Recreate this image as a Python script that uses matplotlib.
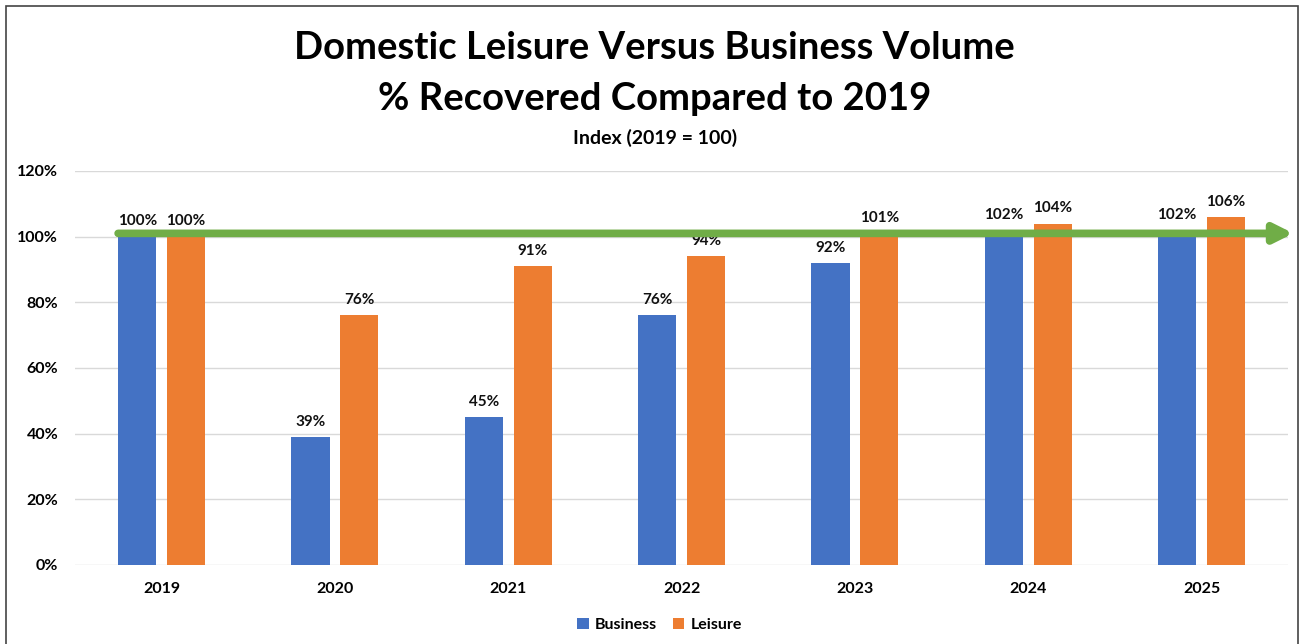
import matplotlib.pyplot as plt
from matplotlib.patches import Rectangle

plt.rcParams['font.family'] = ['Lato', 'DejaVu Sans']
plt.rcParams['font.weight'] = 'bold'

years = ['2019', '2020', '2021', '2022', '2023', '2024', '2025']
business = [100, 39, 45, 76, 92, 102, 102]
leisure = [100, 76, 91, 94, 101, 104, 106]
baseline = 101
yticks = [0, 20, 40, 60, 80, 100, 120]

blue = '#4472C4'
orange = '#ED7D31'
green = '#70AD47'

fig = plt.figure(figsize=(12.99, 6.44), dpi=100)
ax = fig.add_axes([0.0577, 0.1227, 0.934, 0.6118])

x = list(range(len(years)))
w = 0.22
off = 0.141
b1 = ax.bar([i - off for i in x], business, w, color=blue, label='Business', zorder=2)
b2 = ax.bar([i + off for i in x], leisure, w, color=orange, label='Leisure', zorder=2)

for bars, vals in ((b1, business), (b2, leisure)):
    for r, v in zip(bars, vals):
        ax.annotate(f'{v}%', (r.get_x() + r.get_width() / 2, v), xytext=(0, 6),
                    textcoords='offset points', ha='center', va='bottom',
                    fontsize=11, fontweight='bold', color='#111111', zorder=3)

# green reference arrow at ~100%
ax.annotate('', xy=(len(years) - 0.5 + 0.03, baseline), xytext=(-off - w / 2, baseline),
            xycoords='data', textcoords='data', annotation_clip=False,
            arrowprops=dict(arrowstyle='-|>,head_length=1.1,head_width=0.55',
                            color=green, lw=5.5, shrinkA=0, shrinkB=0), zorder=4)

ax.set_xlim(-0.5, len(years) - 0.5)
ax.set_ylim(0, 120)
ax.set_yticks(yticks)
ax.set_yticklabels([f'{t}%' for t in yticks])
ax.set_xticks(x)
ax.set_xticklabels(years)
ax.tick_params(length=0, labelsize=11.5, pad=12)
ax.tick_params(axis='y', pad=12)
for lbl in ax.get_xticklabels() + ax.get_yticklabels():
    lbl.set_fontweight('bold')
ax.grid(axis='y', color='#D9D9D9', lw=1, zorder=0)
ax.set_axisbelow(True)
for s in ax.spines.values():
    s.set_visible(False)

fig.text(0.504, 0.925, 'Domestic Leisure Versus Business Volume', ha='center', va='center',
         fontsize=27.5, fontweight='bold')
fig.text(0.504, 0.847, '% Recovered Compared to 2019', ha='center', va='center',
         fontsize=27.5, fontweight='bold')
fig.text(0.504, 0.786, 'Index (2019 = 100)', ha='center', va='center',
         fontsize=14, fontweight='bold')

ax.legend(loc='center', bbox_to_anchor=(0.482, -0.153), ncol=2, frameon=False,
          handlelength=0.7, handleheight=0.7, handletextpad=0.4, columnspacing=1.0,
          prop={'weight': 'bold', 'size': 11.5})

fig.add_artist(Rectangle((0.005, -0.01), 0.994, 1.0, transform=fig.transFigure,
                         fill=False, edgecolor='#444444', lw=1.2))

fig.savefig('out.png', dpi=100)
